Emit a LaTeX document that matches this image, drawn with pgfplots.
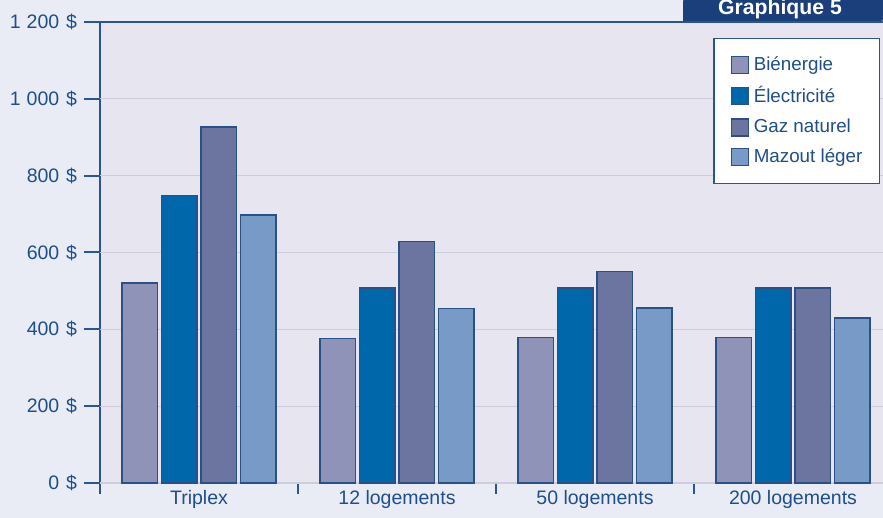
\documentclass[border=0pt]{standalone}
\usepackage{pgfplots}
\pgfplotsset{compat=1.18}
\usepackage{fontspec}
\setmainfont{Liberation Sans}
\definecolor{outerbg}{RGB}{233,236,245}
\definecolor{plotbg}{RGB}{231,230,240}
\definecolor{txt}{RGB}{30,78,140}
\definecolor{axisc}{RGB}{43,84,146}
\definecolor{barborder}{RGB}{42,80,136}
\definecolor{gridc}{RGB}{206,205,222}
\definecolor{tabc}{RGB}{26,63,122}
\definecolor{cBi}{RGB}{143,147,184}
\definecolor{cEl}{RGB}{0,104,170}
\definecolor{cGaz}{RGB}{107,117,160}
\definecolor{cMaz}{RGB}{119,155,198}
\newcommand{\dol}{\hspace{3.4pt}\$}
\begin{document}
\begin{tikzpicture}
\clip (0,0) rectangle (441.5pt,259pt);
\fill[outerbg] (0,0) rectangle (441.5pt,259pt);
\begin{axis}[
  at={(50pt,17.5pt)}, anchor=south west,
  width=391.5pt, height=230.5pt, scale only axis,
  xmin=-0.5, xmax=3.4545, ymin=0, ymax=1200,
  axis background/.style={fill=plotbg},
  axis x line*=bottom, axis y line*=left,
  axis line style={axisc, line width=1pt},
  every tick/.style={axisc, line width=1pt},
  tick align=outside,
  major tick length=5.5pt,
  ybar=2pt, bar width=17.8pt,
  xtick={-0.5,0.5,1.5,2.5}, xticklabels={},
  extra x ticks={0,1,2,3},
  extra x tick labels={Triplex,12 logements,50 logements,200 logements},
  extra x tick style={major tick length=0pt, grid=none},
  ytick=\empty,
  extra y ticks={0,200,400,600,800,1000,1200},
  extra y tick labels={0\dol,200\dol,400\dol,600\dol,800\dol,1\hspace{3pt}000\dol,1\hspace{3pt}200\dol},
  extra y tick style={major tick length=8pt, grid=major},
  major grid style={gridc, line width=0.6pt},
  tick label style={font=\fontsize{9.75}{11.7}\selectfont, text=txt},
  legend style={at={(rel axis cs:0.9962,0.9653)}, anchor=north east,
    fill=white, draw=axisc, line width=0.6pt,
    font=\fontsize{9.4}{11.3}\selectfont, text=txt,
    inner xsep=6.5pt, inner ysep=7pt, row sep=2.6pt},
  legend cell align=left,
  every axis plot post/.append style={
    legend image code/.code={\path (-2pt,0pt); \draw[##1,line width=0.6pt] (0pt,-4.25pt) rectangle (8.5pt,4.25pt); \path (8.6pt,0pt);}},
  clip=false,
]
\addplot[fill=cBi, draw=barborder, line width=0.75pt] coordinates {(0,520) (1,376) (2,379) (3,379)};
\addplot[fill=cEl, draw=barborder, line width=0.75pt] coordinates {(0,748) (1,508) (2,508) (3,508)};
\addplot[fill=cGaz, draw=barborder, line width=0.75pt] coordinates {(0,927) (1,628) (2,551) (3,508)};
\addplot[fill=cMaz, draw=barborder, line width=0.75pt] coordinates {(0,698) (1,454) (2,456) (3,430)};
\legend{Biénergie,Électricité,Gaz naturel,Mazout léger}
\end{axis}
\draw[axisc, line width=1pt] (50pt,248pt) -- (441.5pt,248pt);
\fill[tabc] (445pt,248.5pt) -- (341.5pt,248.5pt) [rounded corners=5pt] -- (341.5pt,263pt) -- (445pt,263pt) -- cycle;
\node[anchor=base, text=white, font=\fontsize{10.6}{12.7}\selectfont\bfseries, inner sep=0pt] at (390pt,251.8pt) {Graphique 5};
\end{tikzpicture}
\end{document}
